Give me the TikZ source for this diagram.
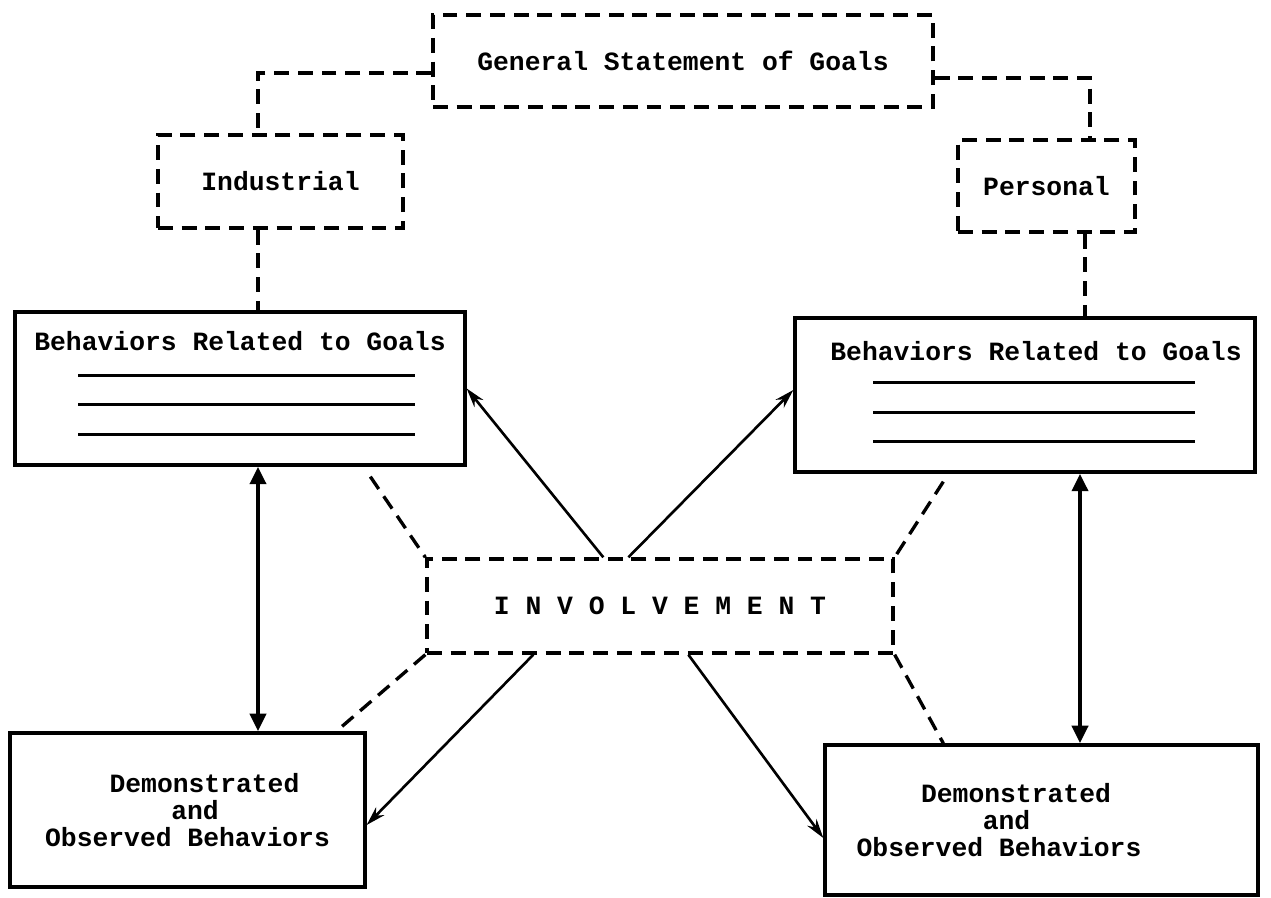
\documentclass[tikz,border=0pt]{standalone}
\usepackage{fontspec}
\setmainfont{Liberation Mono}
\usetikzlibrary{positioning,calc,arrows.meta}
\newcommand{\bnode}[4]{\node [#1] (#2) at (#3) {#4}}
\tikzset{
  dline/.style={line width=1.9pt, dash pattern=on 8.5pt off 5pt},
  dbox/.style={dline, draw, inner sep=0pt},
  sbox/.style={draw, line width=1.9pt, inner sep=0pt},
  rule/.style={line width=1.6pt},
  sarrow/.style={line width=1.5pt, -{Stealth[length=11pt,width=6.5pt]}},
  darrow/.style={line width=2.5pt, {Triangle[length=10pt,width=9pt]}-{Triangle[length=10pt,width=9pt]}},
  lbl/.style={font=\fontsize{15}{15.5}\selectfont\bfseries, align=center}
}

\begin{document}
\begin{tikzpicture}
\useasboundingbox (0,0) rectangle (25.42,17.96);

\bnode{dbox, minimum width=10cm, minimum height=1.84cm, lbl}{GEN}{13.66,16.74}{General Statement of Goals};
\bnode{dbox, minimum width=4.9cm, minimum height=1.86cm, lbl}{IND}{5.61,14.33}{Industrial};
\bnode{dbox, minimum width=3.54cm, minimum height=1.84cm, lbl}{PERS}{20.93,14.24}{Personal};

\bnode{sbox, minimum width=9cm, minimum height=3.06cm}{BEHL}{4.8,10.19}{};
\bnode{sbox, minimum width=9.2cm, minimum height=3.08cm}{BEHR}{20.5,10.06}{};
\node [lbl, below=0.3cm of BEHL.north] (TITL) {Behaviors Related to Goals};
\node [lbl, below=0.38cm of BEHR.north, xshift=0.22cm] (TITR) {Behaviors Related to Goals};

\foreach \d in {1.3,1.88,2.48}
  \draw[rule] ($(BEHL.north west)+(1.3,-\d)$) -- ++(6.74,0);
\foreach \d in {1.32,1.92,2.5}
  \draw[rule] ($(BEHR.north west)+(1.6,-\d)$) -- ++(6.44,0);

\bnode{dbox, minimum width=9.32cm, minimum height=1.88cm, lbl}{INV}{13.2,5.84}{I N V O L V E M E N T};

\bnode{sbox, minimum width=7.1cm, minimum height=3.08cm, lbl}{DEML}{3.75,1.76}{\hspace*{0.68cm}Demonstrated\\\hspace*{0.3cm}and\\Observed Behaviors};
\bnode{sbox, minimum width=8.66cm, minimum height=3cm}{DEMR}{20.83,1.56}{};
\node [lbl, xshift=-0.85cm] (TXTR) at (DEMR) {\hspace*{0.68cm}Demonstrated\\\hspace*{0.3cm}and\\Observed Behaviors};

% goal boxes
\draw[dline] ([yshift=-0.24cm]GEN.west) -| ([xshift=-0.45cm]IND.north);
\draw[dline] ([yshift=-0.34cm]GEN.east) -| ([xshift=0.87cm]PERS.north);
\draw[dline] ([xshift=-0.45cm]IND.south) -- ([xshift=-0.45cm]IND.south |- BEHL.north);
\draw[dline] ([xshift=0.77cm]PERS.south) -- ([xshift=0.77cm]PERS.south |- BEHR.north);

% involvement
\draw[dline] ([xshift=7.14cm,yshift=-0.2cm]BEHL.south west) -- (INV.north west);
\draw[dline] ([xshift=3cm,yshift=-0.16cm]BEHR.south west) -- (INV.north east);
\draw[dline] (INV.south west) -- ([xshift=6.56cm]DEML.north west);
\draw[dline] (INV.south east) -- ([xshift=2.4cm]DEMR.north west);

\draw[sarrow] ([xshift=3.56cm]INV.north west) -- (BEHL.east);
\draw[sarrow] ([xshift=4.06cm]INV.north west) -- ([yshift=0.1cm]BEHR.west);
\draw[sarrow] ([xshift=2.16cm]INV.south west) -- ([yshift=-0.3cm]DEML.east);
\draw[sarrow] ([xshift=5.26cm]INV.south west) -- ([yshift=-0.36cm]DEMR.west);

\draw[darrow] ([xshift=0.36cm]BEHL.south) -- ([xshift=0.36cm]BEHL.south |- DEML.north);
\draw[darrow] ([xshift=1.1cm]BEHR.south) -- ([xshift=1.1cm]BEHR.south |- DEMR.north);

\end{tikzpicture}
\end{document}
